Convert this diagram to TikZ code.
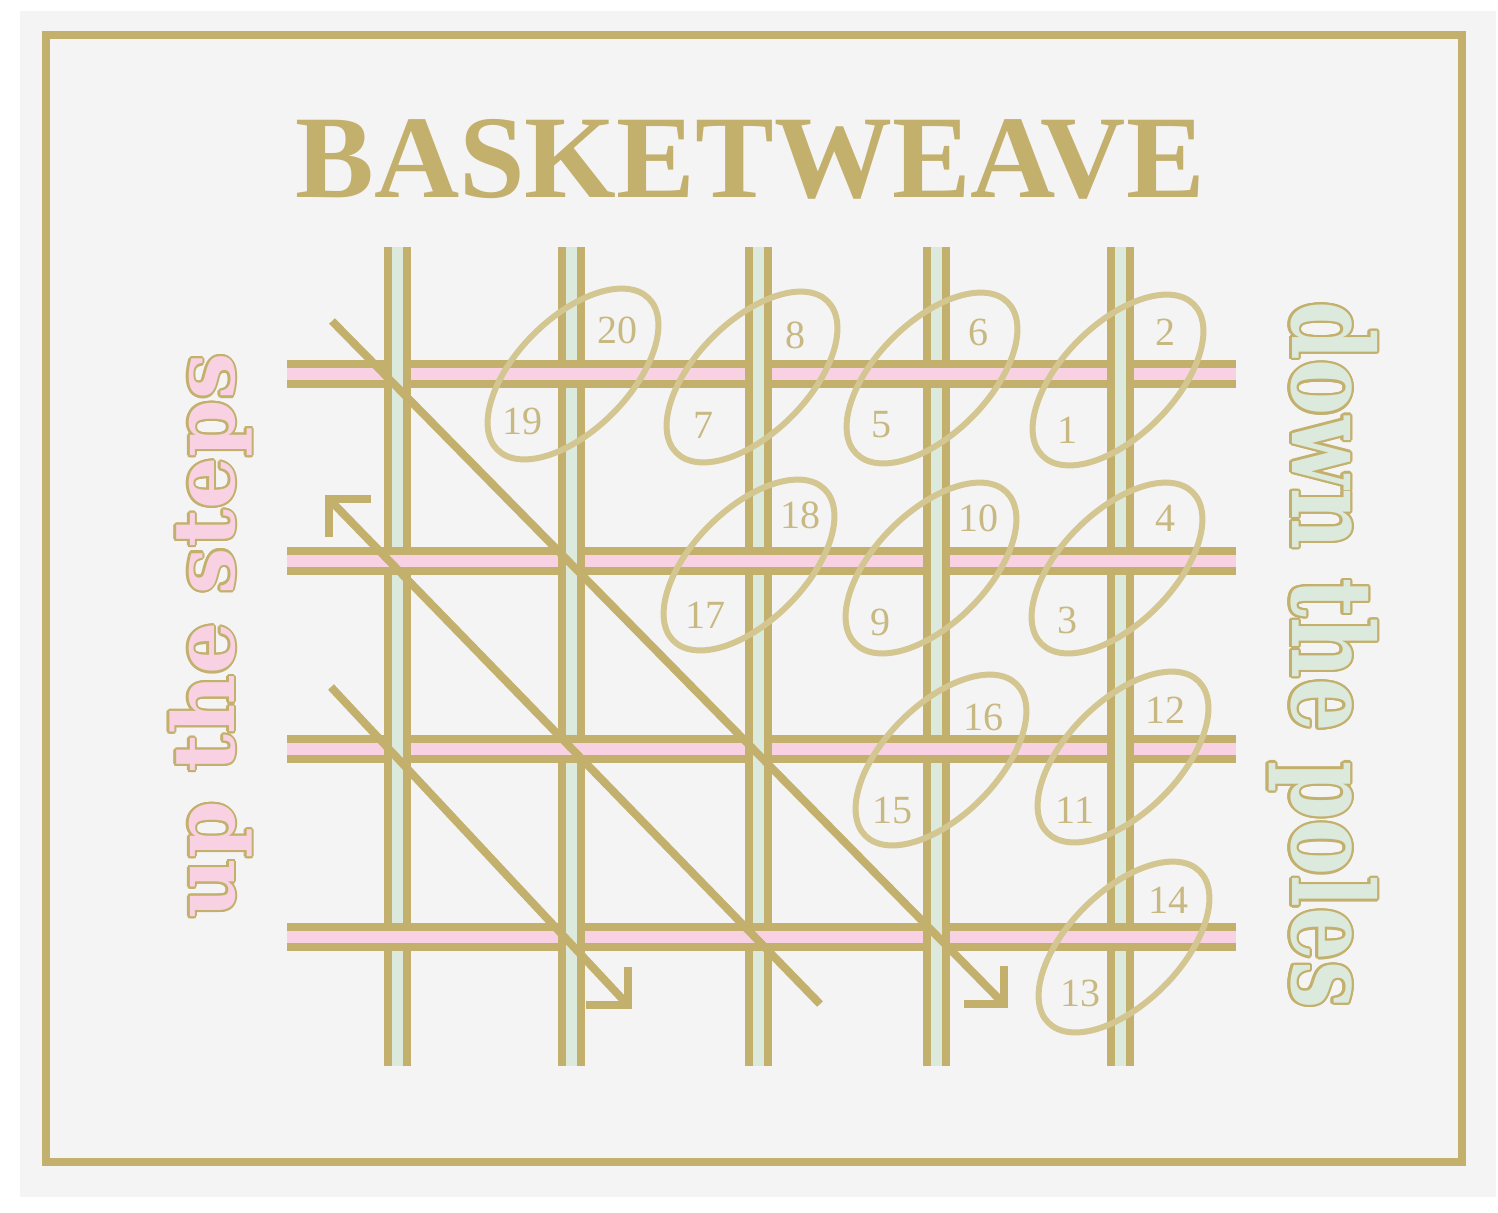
\documentclass[tikz,border=0pt]{standalone}
\usepackage{fontspec}
\setmainfont{Liberation Serif}
\newfontfamily\slabfont{DejaVu Serif Condensed}
\usepackage{contour}
\contourlength{1.1pt}
\definecolor{gold}{HTML}{C3B06C}
\definecolor{lgold}{HTML}{D3C691}
\definecolor{numgold}{HTML}{C8B882}
\definecolor{bpink}{HTML}{F8D2E2}
\definecolor{bgreen}{HTML}{DCEADD}
\definecolor{bggrey}{HTML}{F4F4F4}
\begin{document}
\begin{tikzpicture}[x=0.5pt,y=-0.5pt,
  barout/.style={line width=14pt,draw=gold},
  barin/.style={line width=6pt,draw=bpink},
  poleout/.style={line width=13.5pt,draw=gold},
  polein/.style={line width=5.5pt,draw=bgreen},
  diag/.style={line width=4pt,draw=gold},
  headstyle/.style={line width=4pt,draw=gold,miter limit=10},
  oval/.style={line width=3pt,draw=lgold},
  num/.style={text=numgold,font=\fontsize{20}{24}\selectfont,inner sep=0pt},
  side/.style={inner sep=0pt,anchor=base},
]
\useasboundingbox (0,0) rectangle (1498,1212);
\fill[white] (0,0) rectangle (1498,1212);
\fill[bggrey] (20,11) rectangle (1496,1197);
\draw[gold,line width=4pt] (45.5,35) rectangle (1462,1162);

% horizontal bars
\foreach \y in {374,561,749,937} {
  \draw[barout] (287,\y) -- (1236,\y);
  \draw[barin] (287,\y) -- (1236,\y);
}
% vertical poles
\foreach \x in {397,571,758,936,1120} {
  \draw[poleout] (\x,247) -- (\x,1066);
  \draw[polein] (\x,247) -- (\x,1066);
}
% bars over poles (weave)
\foreach \x/\y in {571/374,936/374,397/561,758/561,1120/561,571/749,936/749,397/937,758/937,1120/937} {
  \draw[barout] (\x-13.5,\y) -- (\x+13.5,\y);
  \draw[barin] (\x-13.5,\y) -- (\x+13.5,\y);
}

% diagonals
\coordinate (d1s) at (332,321);
\coordinate (d1e) at (1004,1004);
\coordinate (d2s) at (820,1004);
\coordinate (d2e) at (329,499);
\coordinate (d3s) at (331,687);
\coordinate (d3e) at (628,1005);
\draw[diag] (d1s) -- (d1e);
\draw[diag] (d2s) -- (d2e);
\draw[diag] (d3s) -- (d3e);
\draw[headstyle] ([xshift=-20pt]d1e) -- (d1e) -- ([yshift=19pt]d1e);
\draw[headstyle] ([xshift=-21pt]d3e) -- (d3e) -- ([yshift=19pt]d3e);
\draw[headstyle] ([xshift=21pt]d2e) -- (d2e) -- ([yshift=-19pt]d2e);

% ovals
\foreach \x/\y in {573/374,752/377,932/378,1118/380,749/565,931/568,1117/568,941/760,1123/757,1124/947} {
  \draw[oval,rotate around={45:(\x,\y)}] (\x,\y) ellipse [x radius=107, y radius=56];
}

% numbers
\node[num] (n20) at (617,330) {20};
\node[num] (n19) at (522,421) {19};
\node[num] (n8) at (795,335) {8};
\node[num] (n7) at (703,425) {7};
\node[num] (n6) at (978,332) {6};
\node[num] (n5) at (881,425) {5};
\node[num] (n2) at (1165,332) {2};
\node[num] (n1) at (1067,430) {1};
\node[num] (n18) at (800,515) {18};
\node[num] (n17) at (705,615) {17};
\node[num] (n10) at (978,518) {10};
\node[num] (n9) at (880,622) {9};
\node[num] (n4) at (1165,518) {4};
\node[num] (n3) at (1067,620) {3};
\node[num] (n16) at (983,717) {16};
\node[num] (n15) at (892,810) {15};
\node[num] (n12) at (1165,710) {12};
\node[num] (n11) at (1075,810) {11};
\node[num] (n14) at (1168,900) {14};
\node[num] (n13) at (1080,993) {13};

% title
\node[text=gold,font=\bfseries\fontsize{59}{60}\selectfont,anchor=base,inner sep=0pt] (title) at (750,197) {BASKETWEAVE};

% side texts
\node[side,rotate=90,text=bpink,font=\slabfont\bfseries\fontsize{45.7}{48}\selectfont] (lefttext) at (234,636) {\scalebox{1}[0.93]{\contour{gold}{up the steps}}};
\node[side,rotate=-90,text=bgreen,font=\slabfont\bfseries\fontsize{46.7}{48}\selectfont] (righttext) at (1292,655) {\scalebox{1}[1.2]{\contour{gold}{down the poles}}};
\end{tikzpicture}
\end{document}
